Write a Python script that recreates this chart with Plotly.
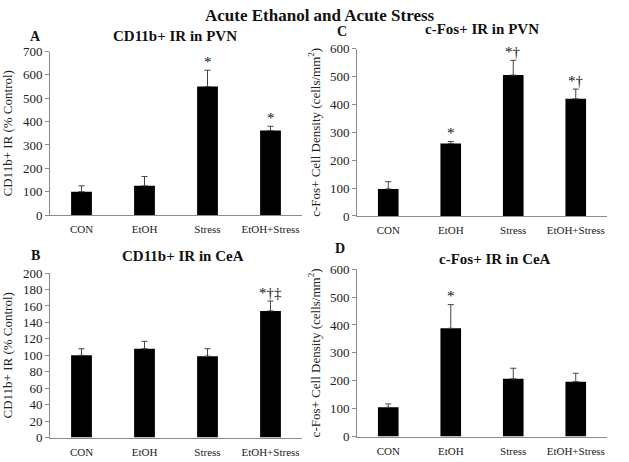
import plotly.graph_objects as go

W, H = 629, 462
categories = ["CON", "EtOH", "Stress", "EtOH+Stress"]

cd11b_pvn = [100, 125, 550, 362]
cd11b_pvn_err = [25, 40, 70, 18]
cd11b_pvn_sig = ["", "", "*", "*"]

cfos_pvn = [97, 260, 505, 420]
cfos_pvn_err = [26, 7, 53, 35]
cfos_pvn_sig = ["", "*", "*†", "*†"]

cd11b_cea = [100, 108, 99, 154]
cd11b_cea_err = [8, 9, 9, 12]
cd11b_cea_sig = ["", "", "", "*†‡"]

cfos_cea = [105, 388, 207, 197]
cfos_cea_err = [12, 85, 38, 30]
cfos_cea_sig = ["", "*", "", ""]

SERIF = "Liberation Serif"
AX = "#8c8c8c"

fig = go.Figure()

panels = [
    (cd11b_pvn, cd11b_pvn_err, cd11b_pvn_sig, "x", "y", (50, 302), (215, 46), 700, 100, 35),
    (cfos_pvn, cfos_pvn_err, cfos_pvn_sig, "x2", "y2", (357, 607), (216, 43), 600, 100, 30),
    (cd11b_cea, cd11b_cea_err, cd11b_cea_sig, "x3", "y3", (50, 302), (445, 275), 200, 20, 10),
    (cfos_cea, cfos_cea_err, cfos_cea_sig, "x4", "y4", (357, 607), (444, 271), 600, 100, 30),
]

layout_axes = {}
annotations = []
for i, (vals, errs, sigs, xa, ya, xd, yd, rmax, dt, off) in enumerate(panels):
    fig.add_trace(go.Bar(
        x=categories, y=vals, xaxis=xa, yaxis=ya,
        marker=dict(color="black", line=dict(width=0)),
        error_y=dict(type="data", array=errs, arrayminus=[0]*4, symmetric=False,
                     color="#444444", thickness=1, width=3),
        width=0.33, showlegend=False,
    ))
    xkey = "xaxis" + ("" if i == 0 else str(i + 1))
    ykey = "yaxis" + ("" if i == 0 else str(i + 1))
    layout_axes[xkey] = dict(
        domain=[xd[0] / W, xd[1] / W], anchor=ya, range=[-0.5, 3.5],
        showline=True, linecolor=AX, linewidth=1, ticks="", showgrid=False,
        tickfont=dict(family=SERIF, size=11, color="#222"), ticklabelstandoff=4,
    )
    layout_axes[ykey] = dict(
        domain=[1 - yd[0] / H, 1 - yd[1] / H], anchor=xa, range=[0, rmax], dtick=dt,
        showline=True, linecolor=AX, linewidth=1, ticks="outside", ticklen=4, tickcolor=AX,
        showgrid=False, zeroline=False,
        tickfont=dict(family=SERIF, size=13, color="#222"),
    )
    for c, v, e, s in zip(categories, vals, errs, sigs):
        if s:
            annotations.append(dict(
                x=c, y=v + e + off, xref=xa, yref=ya, text=s, showarrow=False,
                font=dict(family=SERIF, size=15, color="#111111"), yanchor="middle",
            ))

ytitle_font = dict(family=SERIF, size=13, color="#222")
layout_axes["yaxis"]["title"] = dict(text="CD11b+ IR (% Control)", font=ytitle_font, standoff=8)
layout_axes["yaxis3"]["title"] = dict(text="CD11b+ IR (% Control)", font=ytitle_font, standoff=8)
layout_axes["yaxis2"]["title"] = dict(text="c-Fos+ Cell Density (cells/mm<sup>2</sup>)", font=ytitle_font, standoff=6)
layout_axes["yaxis4"]["title"] = dict(text="c-Fos+ Cell Density (cells/mm<sup>2</sup>)", font=ytitle_font, standoff=6)

def ptxt(text, x, y, size):
    annotations.append(dict(
        text=f"<b>{text}</b>", x=x / W, y=1 - y / H, xref="paper", yref="paper",
        showarrow=False, xanchor="center", yanchor="middle",
        font=dict(family=SERIF, size=size, color="#111"),
    ))

ptxt("Acute Ethanol and Acute Stress", 320, 9, 17)
ptxt("A", 35, 30, 14)
ptxt("CD11b+ IR in PVN", 175, 30, 15)
ptxt("C", 342, 25, 14)
ptxt("c-Fos+ IR in PVN", 482, 23, 15)
ptxt("B", 35, 257, 14)
ptxt("CD11b+ IR in CeA", 183, 257, 15)
ptxt("D", 340, 250, 14)
ptxt("c-Fos+ IR in CeA", 495, 260, 15)

fig.update_layout(
    width=W, height=H, margin=dict(l=0, r=0, t=0, b=0),
    paper_bgcolor="white", plot_bgcolor="white",
    annotations=annotations, **layout_axes,
)

fig.write_html("out.html", config={"displayModeBar": False},
               post_script="document.body.style.margin='0px';document.body.style.overflow='hidden';")
